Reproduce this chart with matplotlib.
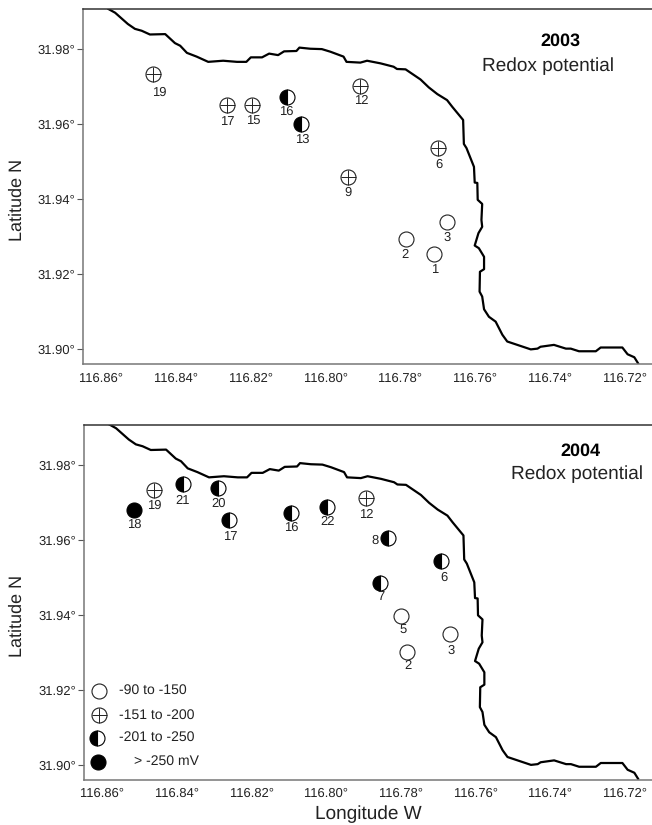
import matplotlib
matplotlib.use('Agg')
import matplotlib.pyplot as plt

plt.rcParams['font.family'] = ['Liberation Sans', 'DejaVu Sans']
plt.rcParams['text.hinting'] = 'none'
plt.rcParams['text.hinting_factor'] = 1

W, H = 652, 825

# shoreline
coast_lon = [116.8580, 116.8562, 116.8528, 116.8509, 116.8491, 116.8469, 116.8428, 116.8402, 116.8388, 116.8370,
             116.8344, 116.8313, 116.8273, 116.8236, 116.8211, 116.8199, 116.8169, 116.8150, 116.8126, 116.8110,
             116.8077, 116.8069, 116.8040, 116.8009, 116.7986, 116.7951, 116.7943, 116.7906, 116.7888, 116.7852,
             116.7817, 116.7808, 116.7785, 116.7745, 116.7723, 116.7700, 116.7674, 116.7660, 116.7631, 116.7629,
             116.7622, 116.7602, 116.7600, 116.7593, 116.7592, 116.7580, 116.7582, 116.7580, 116.7590, 116.7600,
             116.7589, 116.7575, 116.7575, 116.7586, 116.7587, 116.7580, 116.7575, 116.7562, 116.7544, 116.7526,
             116.7513, 116.7477, 116.7450, 116.7432, 116.7424, 116.7388, 116.7356, 116.7343, 116.7321, 116.7276,
             116.7263, 116.7205, 116.7191, 116.7173, 116.7163]
coast_lat = [31.9908, 31.9898, 31.9868, 31.9855, 31.9850, 31.9840, 31.9841, 31.9817, 31.9810, 31.9791,
             31.9781, 31.9767, 31.9770, 31.9767, 31.9767, 31.9779, 31.9779, 31.9789, 31.9785, 31.9795,
             31.9796, 31.9805, 31.9802, 31.9801, 31.9794, 31.9781, 31.9767, 31.9765, 31.9770, 31.9763,
             31.9754, 31.9748, 31.9747, 31.9720, 31.9699, 31.9681, 31.9665, 31.9647, 31.9612, 31.9548,
             31.9537, 31.9487, 31.9445, 31.9444, 31.9399, 31.9388, 31.9345, 31.9327, 31.9310, 31.9277,
             31.9270, 31.9247, 31.9214, 31.9207, 31.9154, 31.9141, 31.9107, 31.9087, 31.9074, 31.9039,
             31.9021, 31.9009, 31.9000, 31.9002, 31.9007, 31.9012, 31.9002, 31.9002, 31.8995, 31.8995,
             31.9005, 31.9005, 31.8987, 31.8979, 31.8963]

# class: 0 open, 1 cross, 2 half, 3 filled
st03 = ['19', '17', '15', '16', '13', '12', '6', '9', '3', '2', '1']
lon03 = [116.8461, 116.8262, 116.8195, 116.8101, 116.8065, 116.7906, 116.7697, 116.7939, 116.7675, 116.7783, 116.7708]
lat03 = [31.9735, 31.9651, 31.9651, 31.9674, 31.9601, 31.9703, 31.9537, 31.9461, 31.9341, 31.9294, 31.9255]
cls03 = [1, 1, 1, 2, 2, 1, 1, 1, 0, 0, 0]
dx03 = [6, 0, 1, -1, 1, 1, 1, 0, 0, -1, 0]
dy03 = [18.5, 16, 16, 14.5, 15, 15, 16, 16, 16, 15.5, 16]

st04 = ['18', '19', '21', '20', '17', '16', '22', '12', '8', '6', '7', '5', '3', '2']
lon04 = [116.8515, 116.8460, 116.8383, 116.8289, 116.8260, 116.8092, 116.7997, 116.7892, 116.7834, 116.7692,
         116.7855, 116.7799, 116.7666, 116.7781]
lat04 = [31.9681, 31.9733, 31.9749, 31.9738, 31.9653, 31.9673, 31.9688, 31.9713, 31.9606, 31.9544,
         31.9485, 31.9398, 31.9350, 31.9302]
cls04 = [3, 1, 2, 2, 2, 2, 2, 1, 2, 2, 2, 0, 0, 0]
dx04 = [1, 0, 0, 1, 1, 0, 1, 0, -13, 3, 1, 2, 1, 0]
dy04 = [14.5, 15, 17, 15, 17, 15, 15, 17, 3, 17, 14, 15, 17, 14]

lon_ticks = [116.86, 116.84, 116.82, 116.80, 116.78, 116.76, 116.74, 116.72]
lat_ticks = [31.90, 31.92, 31.94, 31.96, 31.98]
legend_labels = ['-90 to -150', '-151 to -200', '-201 to -250', '> -250 mV']


def fx(x):
    return x / W


def fy(y):
    return 1 - y / H


def station(ax, x, y, c, **kw):
    ms = 10.8
    if c == 0:
        ax.plot([x], [y], 'o', ms=ms, mfc='white', mec='#222222', mew=0.8, **kw)
    elif c == 1:
        ax.plot([x], [y], 'o', ms=ms, mfc='white', mec='#222222', mew=0.8, **kw)
        ax.plot([x], [y], '+', ms=ms, mec='#222222', mew=0.7, **kw)
    elif c == 2:
        ax.plot([x], [y], 'o', ms=ms, fillstyle='left', mfc='black', mfcalt='white', mec='black', mew=0.8, **kw)
    else:
        ax.plot([x], [y], 'o', ms=ms, mfc='black', mec='black', mew=0.8, **kw)


def panel(fig, left, top, bottom, st, lon, lat, cls, dx, dy):
    ax = fig.add_axes([fx(left), fy(bottom), fx(W + 1 - left), (bottom - top) / H])
    ax.set_xlim(116.8648, 116.7123)
    ax.set_ylim(31.8961, 31.9908)
    ax.plot(coast_lon, coast_lat, color='black', lw=1.6, solid_joinstyle='round')
    for i in range(len(st)):
        station(ax, lon[i], lat[i], cls[i])
        ax.annotate(st[i], (lon[i], lat[i]), xytext=(dx[i], -dy[i]), textcoords='offset pixels',
                    ha='center', va='center', fontsize=9.2, color='#222222')
    ax.set_xticks(lon_ticks)
    ax.set_xticklabels(['%.2f°' % v for v in lon_ticks])
    ax.set_yticks(lat_ticks)
    ax.set_yticklabels(['%.2f°' % v for v in lat_ticks])
    ax.tick_params(axis='x', length=0, pad=6, labelsize=9.6, labelcolor='#222222')
    ax.tick_params(axis='y', length=4, width=0.8, pad=1.5, color='#555555', labelsize=9.6, labelcolor='#222222')
    ax.spines['right'].set_visible(False)
    ax.spines['top'].set_color('#333333')
    ax.spines['left'].set_color('#777777')
    ax.spines['bottom'].set_color('#777777')
    for s in ['top', 'left', 'bottom']:
        ax.spines[s].set_linewidth(1.1)
    return ax


fig = plt.figure(figsize=(W / 100, H / 100), dpi=100)

ax1 = panel(fig, 83, 9, 364, st03, lon03, lat03, cls03, dx03, dy03)
ax2 = panel(fig, 84, 424.5, 779.5, st04, lon04, lat04, cls04, dx04, dy04)

fig.text(fx(560), fy(41), '2003', ha='center', va='center', fontsize=13, fontweight='bold')
fig.text(fx(548), fy(66), 'Redox potential', ha='center', va='center', fontsize=13.6, color='#222222')
fig.text(fx(580), fy(451), '2004', ha='center', va='center', fontsize=13, fontweight='bold')
fig.text(fx(577), fy(474), 'Redox potential', ha='center', va='center', fontsize=13.6, color='#222222')

fig.text(fx(17), fy(200), 'Latitude N', rotation=90, ha='center', va='center', fontsize=13.2, color='#222222')
fig.text(fx(17), fy(615.5), 'Latitude N', rotation=90, ha='center', va='center', fontsize=13.2, color='#222222')
fig.text(fx(368.5), fy(814), 'Longitude W', ha='center', va='center', fontsize=13.4, color='#222222')

# legend is hand placed in the lower panel
leg_x = [99.3, 99.3, 97.3, 98]
leg_y = [690.7, 715, 737.7, 761.7]
leg_tx = [118.7, 118.7, 118.7, 134]
for i in range(4):
    station(ax2, fx(leg_x[i]), fy(leg_y[i]), i, transform=fig.transFigure, clip_on=False)
    fig.text(fx(leg_tx[i]), fy(leg_y[i]), legend_labels[i], ha='left', va='center', fontsize=10, color='#222222')

fig.savefig('out.png', dpi=100)
